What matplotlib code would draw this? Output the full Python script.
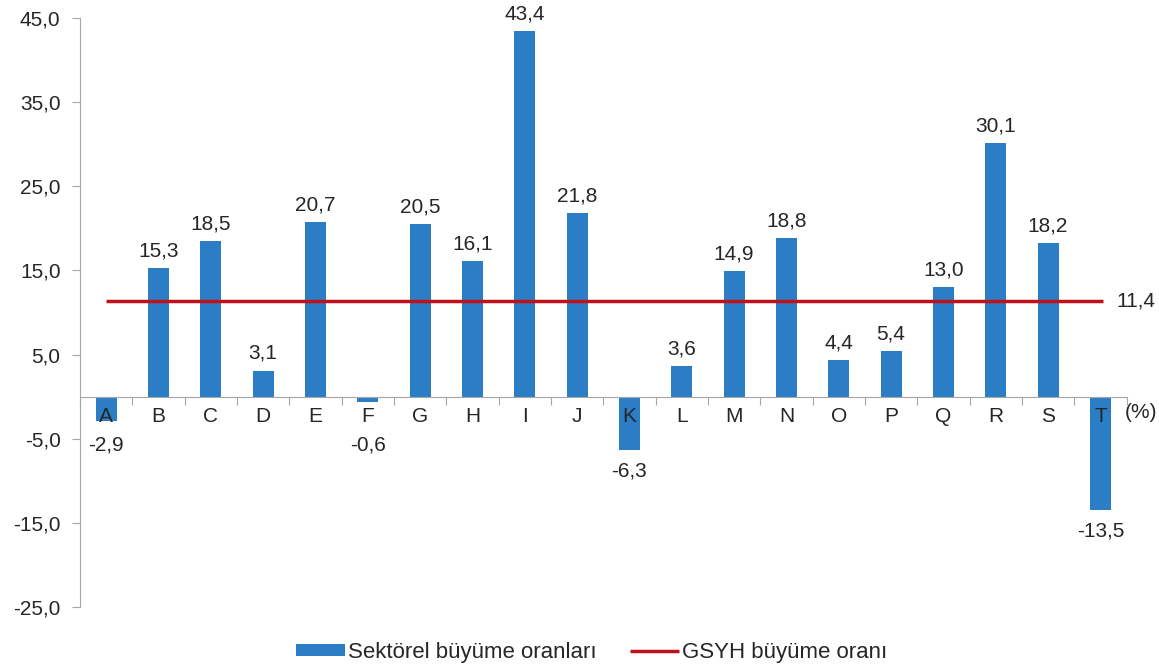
import numpy as np
import matplotlib.pyplot as plt

plt.rcParams['font.family'] = ['Liberation Sans', 'DejaVu Sans']

# veriler
sektorler = ['A', 'B', 'C', 'D', 'E', 'F', 'G', 'H', 'I', 'J',
             'K', 'L', 'M', 'N', 'O', 'P', 'Q', 'R', 'S', 'T']
buyume = [-2.9, 15.3, 18.5, 3.1, 20.7, -0.6, 20.5, 16.1, 43.4, 21.8,
          -6.3, 3.6, 14.9, 18.8, 4.4, 5.4, 13.0, 30.1, 18.2, -13.5]
gsyh = 11.4
y_ticks = [-25, -15, -5, 5, 15, 25, 35, 45]

mavi = '#2b7ec6'
kirmizi = '#c0101a'
gri = '#a6a6a6'
yazi = '#262626'
fs = 15

fig = plt.figure(figsize=(11.59, 6.67), dpi=100)
ax = fig.add_axes([0.069, 0.09, 0.903, 0.883])

x = np.arange(len(sektorler))
cubuk = ax.bar(x, buyume, width=0.4, color=mavi, label='Sektörel büyüme oranları', zorder=2)
cizgi, = ax.plot([x[0], x[-1] + 0.05], [gsyh, gsyh], color=kirmizi, lw=2.5,
                 solid_capstyle='butt', label='GSYH büyüme oranı', zorder=3)
ax.text(x[-1] + 0.3, gsyh, '11,4', fontsize=fs, va='center', ha='left', color=yazi)

fmt = lambda v: f'{v:.1f}'.replace('.', ',')
for xi, v in zip(x, buyume):
    if v >= 0:
        ax.text(xi, v + 0.9, fmt(v), ha='center', va='bottom', fontsize=fs, color=yazi)
    else:
        ax.text(xi, min(v - 1.4, -4.6), fmt(v), ha='center', va='top', fontsize=fs, color=yazi)

# kategori etiketleri sıfır çizgisinin altında
for xi, s in zip(x, sektorler):
    ax.text(xi, -1.2, s, ha='center', va='top', fontsize=fs, color=yazi, zorder=4)
ax.text(x[-1] + 0.47, -0.8, '(%)', ha='left', va='top', fontsize=fs, color=yazi)

ax.set_xlim(-0.5, len(sektorler) - 0.5)
ax.set_ylim(-25, 45)
ax.set_yticks(y_ticks)
ax.set_yticklabels([fmt(t) for t in y_ticks], fontsize=fs, color=yazi)
ax.tick_params(axis='y', length=6, color=gri, pad=8)

ax.spines['top'].set_visible(False)
ax.spines['right'].set_visible(False)
ax.spines['left'].set_color(gri)
ax.spines['bottom'].set_position(('data', 0))
ax.spines['bottom'].set_color(gri)
ax.set_xticks(np.arange(-0.5, len(sektorler), 1.0))
ax.set_xticklabels([])
ax.tick_params(axis='x', length=6, color=gri, direction='out')

ax.legend([cubuk, cizgi], ['Sektörel büyüme oranları', 'GSYH büyüme oranı'],
          loc='center', bbox_to_anchor=(0.489, -0.077), ncol=2, frameon=False,
          fontsize=16, handlelength=2.2, handleheight=0.45, handletextpad=0.15,
          columnspacing=1.5, labelcolor=yazi)

fig.savefig('out.png', dpi=100)
